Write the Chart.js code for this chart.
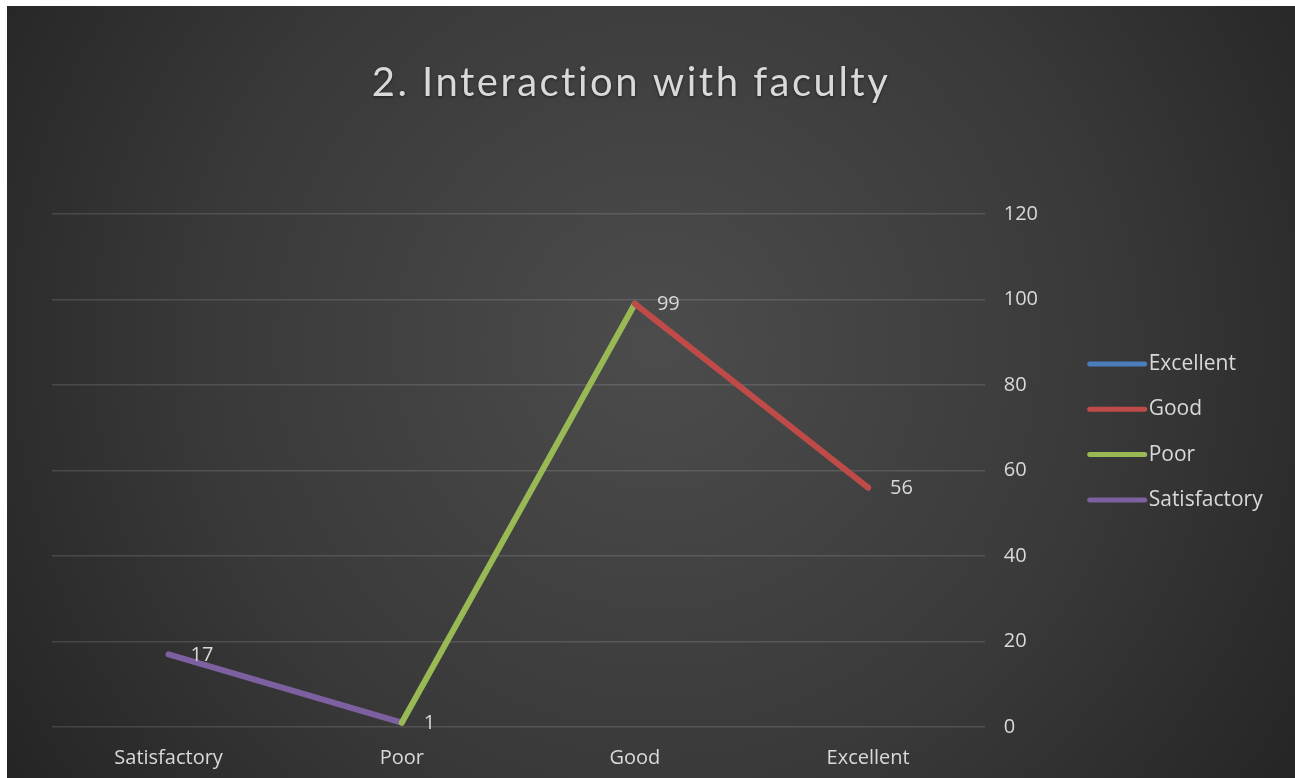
<!DOCTYPE html>
<html>
<head>
<meta charset="utf-8">
<script src="https://cdn.jsdelivr.net/npm/chart.js@4"></script>
<style>
  body { margin: 0; background: #fff; }
  #wrap { position: absolute; left: 7px; top: 6px; width: 1288px; height: 772px; }
</style>
</head>
<body>
<div id="wrap"><canvas id="myLineChart"></canvas></div>
<script>
const categories = ['Satisfactory', 'Poor', 'Good', 'Excellent'];
const seriesNames = ['Excellent', 'Good', 'Poor', 'Satisfactory'];
const excellentValues = [null, null, null, 56];
const goodValues = [null, null, 99, 56];
const poorValues = [null, 1, 99, null];
const satisfactoryValues = [17, 1, null, null];
const yTicks = [0, 20, 40, 60, 80, 100, 120];

const textColor = '#d9d9d9';

// dark radial backdrop like the office theme
const backdrop = {
  id: 'backdrop',
  beforeDraw(chart) {
    const ctx = chart.ctx;
    const g = ctx.createRadialGradient(650, 340, 0, 650, 340, 820);
    g.addColorStop(0, '#4c4c4c');
    g.addColorStop(0.55, '#393939');
    g.addColorStop(1, '#222222');
    ctx.save();
    ctx.fillStyle = g;
    ctx.fillRect(0, 0, chart.width, chart.height);
    ctx.restore();
  }
};

const titleText = {
  id: 'titleText',
  afterDraw(chart) {
    const ctx = chart.ctx;
    ctx.save();
    ctx.font = '40px Lato, "Open Sans", sans-serif';
    ctx.letterSpacing = '2.5px';
    ctx.fillStyle = textColor;
    ctx.textAlign = 'center';
    ctx.textBaseline = 'middle';
    ctx.shadowColor = 'rgba(0,0,0,0.5)';
    ctx.shadowBlur = 3;
    ctx.shadowOffsetY = 1;
    ctx.fillText('2. Interaction with faculty', 624, 77);
    ctx.restore();
  }
};

// value labels to the right of each point
const valueLabels = {
  id: 'valueLabels',
  afterDatasetsDraw(chart) {
    const ctx = chart.ctx;
    ctx.save();
    ctx.font = '20px "Open Sans", sans-serif';
    ctx.fillStyle = textColor;
    ctx.textAlign = 'left';
    ctx.textBaseline = 'middle';
    categories.forEach((c, i) => {
      for (let d = 0; d < chart.data.datasets.length; d++) {
        const v = chart.data.datasets[d].data[i];
        if (v !== null && v !== undefined) {
          const pt = chart.getDatasetMeta(d).data[i];
          ctx.fillText(String(v), pt.x + 22, pt.y + 1);
          break;
        }
      }
    });
    ctx.restore();
  }
};

const sideLegend = {
  id: 'sideLegend',
  afterDraw(chart) {
    const ctx = chart.ctx;
    const x0 = chart.chartArea.right + 105;
    const y0 = chart.chartArea.top + 150;
    ctx.save();
    ctx.font = '21px "Open Sans", sans-serif';
    ctx.textBaseline = 'middle';
    ctx.lineCap = 'round';
    chart.data.datasets.forEach((ds, i) => {
      const y = y0 + i * 45.3;
      ctx.strokeStyle = ds.borderColor;
      ctx.lineWidth = 5;
      ctx.beginPath();
      ctx.moveTo(x0, y);
      ctx.lineTo(x0 + 55, y);
      ctx.stroke();
      ctx.fillStyle = textColor;
      ctx.fillText(ds.label, x0 + 59, y);
    });
    ctx.restore();
  }
};

function line(label, data, color, order) {
  return {
    label: label,
    data: data,
    borderColor: color,
    backgroundColor: color,
    borderWidth: 6,
    borderCapStyle: 'round',
    pointRadius: 0,
    tension: 0,
    spanGaps: false,
    order: order
  };
}

const lineData = {
  labels: categories,
  datasets: [
    line(seriesNames[0], excellentValues, '#4a7ebb', 1),
    line(seriesNames[1], goodValues, '#be4b48', 0),
    line(seriesNames[2], poorValues, '#98b954', 0),
    line(seriesNames[3], satisfactoryValues, '#7d60a0', 0)
  ]
};

const lineConfig = {
  type: 'line',
  data: lineData,
  options: {
    responsive: true,
    maintainAspectRatio: false,
    animation: false,
    layout: { padding: { left: 45, top: 208, right: 238, bottom: -11 } },
    plugins: {
      legend: { display: false },
      title: { display: false },
      tooltip: { enabled: false }
    },
    scales: {
      x: {
        offset: true,
        grid: { display: false, drawTicks: false },
        border: { display: false },
        ticks: {
          color: textColor,
          padding: 19,
          font: { family: '"Open Sans", sans-serif', size: 20 }
        }
      },
      y: {
        position: 'right',
        min: yTicks[0],
        max: yTicks[yTicks.length - 1],
        afterBuildTicks: (axis) => { axis.ticks = yTicks.map(v => ({ value: v })); },
        grid: { color: 'rgba(255,255,255,0.13)', lineWidth: 1.5, drawTicks: false },
        border: { display: false },
        ticks: {
          color: textColor,
          padding: 19,
          font: { family: '"Open Sans", sans-serif', size: 20 }
        }
      }
    }
  },
  plugins: [backdrop, valueLabels, sideLegend, titleText]
};

const myLineChart = new Chart(
  document.getElementById('myLineChart'),
  lineConfig
);
</script>
</body>
</html>
